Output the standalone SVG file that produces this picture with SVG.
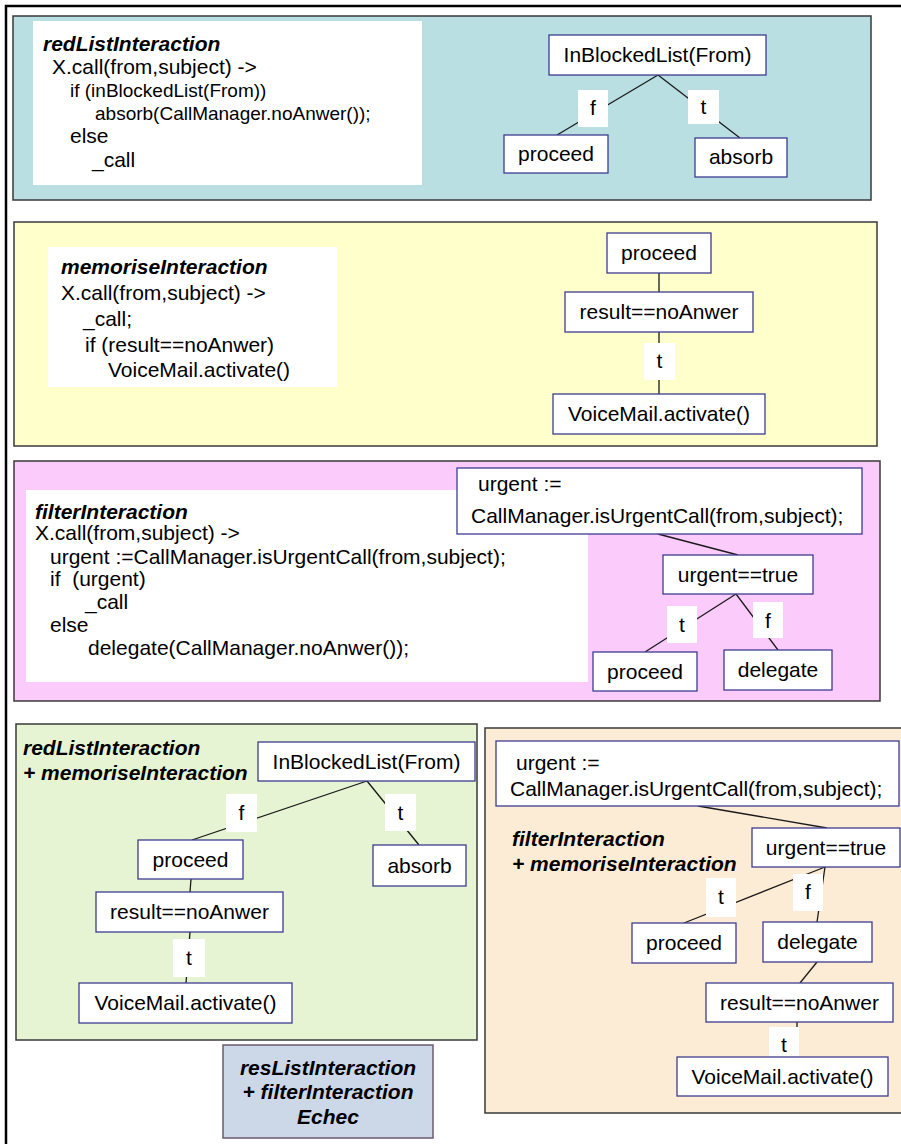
<svg xmlns="http://www.w3.org/2000/svg" width="901" height="1144" viewBox="0 0 901 1144">
<style>
text{font-family:"Liberation Sans",Arial,sans-serif;font-size:21px;fill:#000;white-space:pre}
.hd{font-weight:bold;font-style:italic}
.c{text-anchor:middle}
.sm{font-size:19px}
.panel{stroke:#3a3a3a;stroke-width:1.5}
.node{fill:#fff;stroke:#3d3d8f;stroke-width:1.3}
.lbl{fill:#fff}
.code{fill:#fff}
.edge{stroke:#1a1a1a;stroke-width:1.3;fill:none}
</style>
<rect width="901" height="1144" fill="#fff"/>
<path d="M6,1144 V6 H901" fill="none" stroke="#000" stroke-width="2.5"/>

<g id="panel-redlist">
<rect class="panel" x="13" y="16" width="858" height="184" fill="#b9dfe3"/>
<rect class="code" x="33" y="21" width="389" height="164"/>
<text class="hd" x="43" y="51">redListInteraction</text>
<text x="52" y="74">X.call(from,subject) -&gt;</text>
<text class="sm" x="70" y="97">if (inBlockedList(From))</text>
<text class="sm" x="95" y="120">absorb(CallManager.noAnwer());</text>
<text x="70" y="143">else</text>
<text x="92" y="167">_call</text>
</g>

<g id="panel-memorise">
<rect class="panel" x="14" y="222" width="863" height="224" fill="#ffffcc"/>
<rect class="code" x="48" y="247" width="289" height="140"/>
<text class="hd" x="61" y="274">memoriseInteraction</text>
<text x="61" y="300">X.call(from,subject) -&gt;</text>
<text x="83" y="326">_call;</text>
<text x="85" y="352">if (result==noAnwer)</text>
<text x="108" y="377">VoiceMail.activate()</text>
</g>

<g id="panel-filter">
<rect class="panel" x="14" y="461" width="866" height="240" fill="#fbcbfb"/>
<rect class="code" x="26" y="490" width="562" height="192"/>
<text class="hd" x="35" y="519">filterInteraction</text>
<text x="35" y="540">X.call(from,subject) -&gt;</text>
<text x="50" y="564">urgent :=CallManager.isUrgentCall(from,subject);</text>
<text x="50" y="586">if  (urgent)</text>
<text x="85" y="609">_call</text>
<text x="50" y="632">else</text>
<text x="88" y="655">delegate(CallManager.noAnwer());</text>
</g>

<g id="panel-redlist-memorise">
<rect class="panel" x="16" y="724" width="461" height="316" fill="#e6f4d4"/>
<text class="hd" x="23" y="755">redListInteraction</text>
<text class="hd" x="23" y="780">+ memoriseInteraction</text>
</g>

<g id="panel-filter-memorise">
<rect class="panel" x="485" y="728" width="420" height="385" fill="#fcecd6"/>
<text class="hd" x="512" y="846">filterInteraction</text>
<text class="hd" x="512" y="871">+ memoriseInteraction</text>
</g>

<g id="connectors">
<line class="edge" x1="658" y1="75" x2="557" y2="135"/>
<line class="edge" x1="658" y1="75" x2="740" y2="138"/>
<line class="edge" x1="659" y1="273" x2="659" y2="394"/>
<line class="edge" x1="658" y1="534" x2="738" y2="555"/>
<line class="edge" x1="736" y1="594" x2="645" y2="652"/>
<line class="edge" x1="736" y1="594" x2="778" y2="650"/>
<line class="edge" x1="367" y1="781" x2="192" y2="840"/>
<line class="edge" x1="367" y1="781" x2="419" y2="845"/>
<line class="edge" x1="191" y1="879" x2="190" y2="892"/>
<line class="edge" x1="190" y1="932" x2="186" y2="983"/>
<line class="edge" x1="698" y1="806" x2="827" y2="828"/>
<line class="edge" x1="825" y1="867" x2="684" y2="923"/>
<line class="edge" x1="825" y1="867" x2="817" y2="922"/>
<line class="edge" x1="817" y1="962" x2="800" y2="983"/>
<line class="edge" x1="797" y1="1022" x2="797" y2="1057"/>
</g>

<g id="p1-inblocked"><rect class="node" x="549" y="35" width="217" height="40"/><text class="c" x="657.5" y="62">InBlockedList(From)</text></g>
<g id="p1-f"><rect class="lbl" x="578" y="90" width="30" height="37"/><text class="c" x="593" y="115">f</text></g>
<g id="p1-t"><rect class="lbl" x="688" y="90" width="31" height="34"/><text class="c" x="703.5" y="114">t</text></g>
<g id="p1-proceed"><rect class="node" x="504" y="135" width="104" height="38"/><text class="c" x="556" y="161">proceed</text></g>
<g id="p1-absorb"><rect class="node" x="695" y="138" width="92" height="39"/><text class="c" x="741" y="164">absorb</text></g>

<g id="p2-proceed"><rect class="node" x="607" y="233" width="104" height="40"/><text class="c" x="659" y="260">proceed</text></g>
<g id="p2-result"><rect class="node" x="565" y="292" width="188" height="40"/><text class="c" x="659" y="319">result==noAnwer</text></g>
<g id="p2-t"><rect class="lbl" x="644" y="343" width="31" height="37"/><text class="c" x="659.5" y="368">t</text></g>
<g id="p2-voicemail"><rect class="node" x="553" y="394" width="212" height="40"/><text class="c" x="659" y="421">VoiceMail.activate()</text></g>

<g id="p3-urgent-assign"><rect class="node" x="457" y="468" width="405" height="66"/><text x="478" y="491">urgent :=</text><text x="471" y="523">CallManager.isUrgentCall(from,subject);</text></g>
<g id="p3-urgent-true"><rect class="node" x="663" y="555" width="150" height="39"/><text class="c" x="738" y="582">urgent==true</text></g>
<g id="p3-t"><rect class="lbl" x="667" y="606" width="30" height="37"/><text class="c" x="682" y="632">t</text></g>
<g id="p3-f"><rect class="lbl" x="753" y="602" width="30" height="36"/><text class="c" x="768" y="628">f</text></g>
<g id="p3-proceed"><rect class="node" x="593" y="652" width="104" height="39"/><text class="c" x="645" y="679">proceed</text></g>
<g id="p3-delegate"><rect class="node" x="724" y="650" width="108" height="40"/><text class="c" x="778" y="677">delegate</text></g>

<g id="p4-inblocked"><rect class="node" x="258" y="742" width="217" height="39"/><text class="c" x="366.5" y="769">InBlockedList(From)</text></g>
<g id="p4-f"><rect class="lbl" x="226" y="794" width="31" height="38"/><text class="c" x="241.5" y="820">f</text></g>
<g id="p4-t"><rect class="lbl" x="385" y="794" width="31" height="37"/><text class="c" x="400.5" y="820">t</text></g>
<g id="p4-proceed"><rect class="node" x="138" y="840" width="105" height="39"/><text class="c" x="190.5" y="867">proceed</text></g>
<g id="p4-absorb"><rect class="node" x="373" y="845" width="93" height="41"/><text class="c" x="419.5" y="873">absorb</text></g>
<g id="p4-result"><rect class="node" x="96" y="892" width="187" height="40"/><text class="c" x="189.5" y="919">result==noAnwer</text></g>
<g id="p4-t2"><rect class="lbl" x="173" y="939" width="32" height="38"/><text class="c" x="189" y="965">t</text></g>
<g id="p4-voicemail"><rect class="node" x="79" y="983" width="213" height="40"/><text class="c" x="185.5" y="1010">VoiceMail.activate()</text></g>

<g id="p5-urgent-assign"><rect class="node" x="496" y="741" width="403" height="65"/><text x="516" y="770">urgent :=</text><text x="510" y="796">CallManager.isUrgentCall(from,subject);</text></g>
<g id="p5-urgent-true"><rect class="node" x="752" y="828" width="148" height="39"/><text class="c" x="826" y="855">urgent==true</text></g>
<g id="p5-t"><rect class="lbl" x="706" y="878" width="30" height="39"/><text class="c" x="721" y="904">t</text></g>
<g id="p5-f"><rect class="lbl" x="793" y="874" width="30" height="37"/><text class="c" x="808" y="899">f</text></g>
<g id="p5-proceed"><rect class="node" x="632" y="923" width="104" height="40"/><text class="c" x="684" y="950">proceed</text></g>
<g id="p5-delegate"><rect class="node" x="763" y="922" width="109" height="40"/><text class="c" x="817.5" y="949">delegate</text></g>
<g id="p5-result"><rect class="node" x="706" y="983" width="187" height="39"/><text class="c" x="799.5" y="1010">result==noAnwer</text></g>
<g id="p5-t2"><rect class="lbl" x="769" y="1027" width="30" height="30"/><text class="c" x="784" y="1052">t</text></g>
<g id="p5-voicemail"><rect class="node" x="677" y="1057" width="211" height="39"/><text class="c" x="782.5" y="1084">VoiceMail.activate()</text></g>

<g id="echec">
<rect x="223" y="1045" width="210" height="93" fill="#ccd7e8" stroke="#6b5b6e" stroke-width="1.5"/>
<text class="hd c" x="328" y="1075">resListInteraction</text>
<text class="hd c" x="328" y="1099">+ filterInteraction</text>
<text class="hd c" x="328" y="1124">Echec</text>
</g>
</svg>
